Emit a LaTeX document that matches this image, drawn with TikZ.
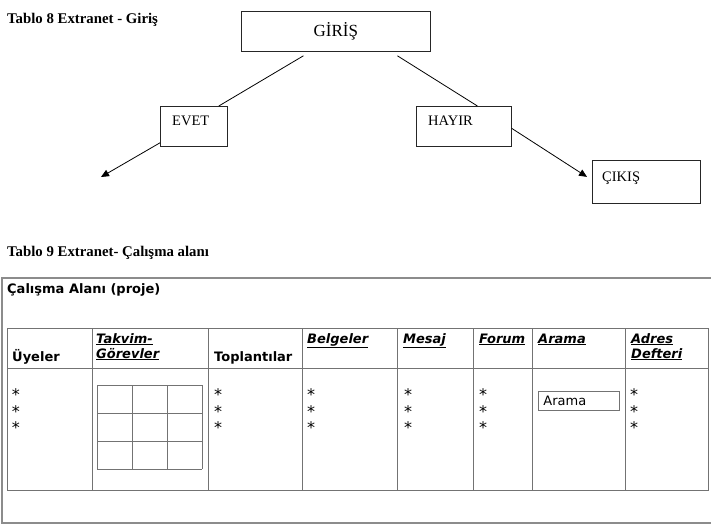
\documentclass[tikz,border=0pt]{standalone}
\usepackage{fontspec}
\setmainfont{Liberation Serif}
\setsansfont{DejaVu Sans}
\usetikzlibrary{positioning, arrows.meta}
\tikzset{
  >={Triangle[length=8pt,width=7pt]},
  kutu/.style={draw=black!85, line width=0.8pt, inner sep=0pt, anchor=north west},
  yazi/.style={inner sep=0pt, font=\fontsize{14.5}{16}\selectfont},
  baslik/.style={inner sep=0pt, anchor=base west, font=\fontsize{14.8}{17}\selectfont\bfseries},
  cizgi/.style={draw=black!55, line width=0.9pt},
  sutun/.style={inner sep=0pt, anchor=base west, align=left,
    font=\sffamily\bfseries\fontsize{13}{15}\selectfont},
  link/.style={sutun, font=\sffamily\bfseries\itshape\fontsize{13}{15}\selectfont},
  yildiz/.style={inner sep=0pt, anchor=base, font=\sffamily\fontsize{16}{18}\selectfont},
}

\begin{document}
\begin{tikzpicture}[x=1pt, y=-1pt]
      \useasboundingbox (0,0) rectangle (711,531);

      % Tablo 8
      \node[baslik] (t8) at (7,23) {Tablo 8 Extranet - Giriş};
      \node[kutu, minimum width=189pt, minimum height=40pt,
            font=\fontsize{17}{19}\selectfont] (giris) at (241,11) {GİRİŞ};
      \node[kutu, minimum width=67pt, minimum height=40pt] (evet) at (160,106) {};
      \node[yazi, below right=10pt and 12pt of evet.north west] (evetY) {EVET};
      \node[kutu, minimum width=95pt, minimum height=40pt] (hayir) at (416,106) {};
      \node[yazi, below right=10pt and 12pt of hayir.north west] (hayirY) {HAYIR};
      \node[kutu, minimum width=108pt, minimum height=43pt] (cikis) at (592,160) {};
      \node[yazi, below right=12pt and 10pt of cikis.north west] (cikisY) {ÇIKIŞ};
      \coordinate (bos) at (101,177);

      \draw[line width=0.8pt] ([xshift=-32.5pt,yshift=-4pt]giris.south) -- ([xshift=-9pt]evet.north east);
      \draw[line width=0.8pt] ([xshift=61.5pt,yshift=-4pt]giris.south) -- ([xshift=13.5pt]hayir.north);
      \draw[->, line width=0.8pt] ([yshift=4pt]evet.south west) -- (bos);
      \draw[->, line width=0.8pt] ([yshift=-2pt]hayir.east) -- ([xshift=-5pt,yshift=5pt]cikis.west);

      % Tablo 9
      \node[baslik] (t9) at (7,256) {Tablo 9 Extranet- Çalışma alanı};
      \draw[draw=black!45, line width=1.1pt] (712,278) -- (2,278) -- (2,523) -- (712,523);
      \node[sutun] (alan) at (7,293) {Çalışma Alanı (proje)};

      \draw[cizgi] (7,328) rectangle (708,490);
      \draw[cizgi] (7,368) -- (708,368);
      \foreach \x in {92,208,302,397,473,532,625}
        \draw[cizgi] (\x,328) -- (\x,490);

      \node[sutun] (uye) at (12,361) {Üyeler};
      \node[link] (takvim) at (96,358) {\underline{Takvim-}\\\underline{Görevler}};
      \node[sutun] (toplanti) at (214,361) {Toplantılar};
      \node[link] (belge) at (307,343) {\underline{Belgeler}};
      \node[link] (mesaj) at (403,343) {\underline{Mesaj}};
      \node[link] (forum) at (479,343) {\underline{Forum}};
      \node[link] (arama) at (538,343) {\underline{Arama}};
      \node[link] (adres) at (631,358) {\underline{Adres}\\\underline{Defteri}};

      \foreach \x [count=\i] in {16,218,311,408,483,634}
        \foreach \y [count=\j] in {391,408,424}
          \node[yildiz] (s\i\j) at (\x,\y+9) {*};

      % takvim
      \foreach \k in {0,...,3} {
        \draw[cizgi] (97+35*\k,385) -- (97+35*\k,469);
        \draw[cizgi] (97,385+28*\k) -- (202,385+28*\k);
      }

      \node[cizgi, draw, anchor=north west, minimum height=19pt, text width=71pt,
            inner xsep=5pt, inner ysep=0pt, align=left,
            font=\sffamily\fontsize{13}{15}\selectfont] (aramaK) at (538,391) {Arama};
    \end{tikzpicture}
\end{document}
